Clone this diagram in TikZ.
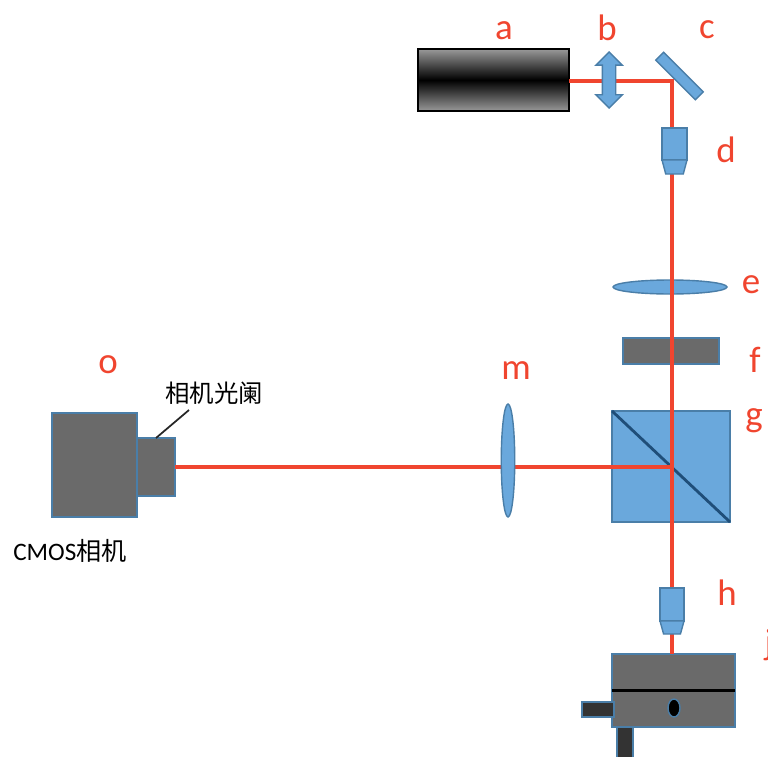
\documentclass[tikz,border=0pt]{standalone}
\usepackage{fontspec}
\usepackage{tikz}
\usetikzlibrary{positioning, shapes.geometric, shapes.arrows}
\setmainfont{Carlito}
\newfontfamily\cjk{Noto Sans CJK SC}
\definecolor{lensblue}{HTML}{6AA8DC}
\definecolor{edgeblue}{HTML}{4A7EA8}
\definecolor{darkblue}{HTML}{1F4E79}
\definecolor{bodygray}{HTML}{6A6A6A}
\definecolor{beamred}{HTML}{F0452F}
\tikzset{
	optic/.style={draw=edgeblue, fill=lensblue, line width=0.8pt, inner sep=0pt, outer sep=0pt},
	housing/.style={draw=edgeblue, fill=bodygray, line width=1.1pt, inner sep=0pt, outer sep=0pt},
	post/.style={draw=edgeblue, fill=black!80, line width=1.1pt, inner sep=0pt, outer sep=0pt},
	beam/.style={draw=beamred, line width=2pt},
	tag/.style={text=beamred, font=\fontsize{21}{24}\selectfont, inner sep=0pt},
	tip/.style={optic, trapezium, trapezium stretches=true, shape border rotate=180, inner sep=1pt,
		trapezium left angle=78, trapezium right angle=78, minimum width=5mm, minimum height=2.8mm}
}

\begin{document}
\begin{tikzpicture}[x=0.2mm, y=-0.2mm]

\useasboundingbox (0,0) rectangle (768,756);

\node [draw=black, line width=1.3pt, top color=black!40, bottom color=black!40, middle color=black, inner sep=0pt, outer sep=0pt, minimum width=30.2mm, minimum height=12.4mm] (laser) at (493.5,80) {};

\node [optic, minimum width=22.8mm, minimum height=2.8mm, ellipse] (lense) at (670,287) {};
\node [housing, minimum width=19.2mm, minimum height=5.2mm] (filter) at (671,351) {};
\node [optic, minimum width=23.6mm, minimum height=22.2mm] (cube) at (671,466.5) {};
\draw [darkblue, line width=1.6pt] (cube.north west) -- (cube.south east);

\node [housing, minimum width=17mm, minimum height=20.8mm] (camera) at (94.5,465) {};
\node [housing, minimum width=7.6mm, minimum height=11.6mm] (aperture) at (156,467) {};

\node [housing, minimum width=24.6mm, minimum height=14.6mm] (stage) at (673.5,690.5) {};
\draw [black, line width=2pt] (stage.west) -- (stage.east);
\node [draw=edgeblue, fill=black, line width=0.8pt, ellipse, inner sep=0pt, minimum width=2.4mm, minimum height=3.6mm] (hole) at (674,708) {};
\node [post, minimum width=6.4mm, minimum height=3mm] (knob) at (598,709.5) {};
\node [post, minimum width=3.2mm, minimum height=12mm] (stand) at (625,757) {};

\coordinate (turn) at (672,81);

% beam path
\path [beam] (laser.east |- turn) -- (turn) -- (turn |- stage.north);
\path [beam] (aperture.east) -- (aperture -| turn);

\node [optic, double arrow, rotate=90, minimum height=11.2mm, minimum width=5mm, double arrow head extend=1.3mm, inner sep=1.2mm] (lensb) at (609,80) {};
\node [optic, rotate=-45, minimum width=11.2mm, minimum height=2.2mm] (mirror) at (679.5,76) {};
\node [optic, ellipse, minimum width=2.7mm, minimum height=22.6mm] (lensm) at (508,460.5) {};

\node [optic, minimum width=5mm, minimum height=6.4mm] (objd) at (674.5,144) {};
\node [tip, below=0pt of objd, anchor=north] (tipd) {};
\node [optic, minimum width=4.8mm, minimum height=6.6mm] (objh) at (672,604.5) {};
\node [tip, below=0pt of objh, anchor=north, minimum width=4.8mm, minimum height=2.6mm] (tiph) {};

\node [tag] (taga) at (504,31) {a};
\node [tag] (tagb) at (607,28) {b};
\node [tag] (tagc) at (707,30) {c};
\node [tag] (tagd) at (726,150) {d};
\node [tag] (tage) at (751,285) {e};
\node [tag] (tagf) at (755,360) {f};
\node [tag] (tagg) at (754,421) {g};
\node [tag] (tagh) at (727,593) {h};
\node [tag] (tagj) at (769,645) {j};
\node [tag] (tagm) at (516,371) {m};
\node [tag] (tago) at (108,365) {o};

\node [inner sep=0pt, font=\fontsize{13.9}{16}\selectfont\cjk] (irisname) at (214,393) {相机光阑};
\node [inner sep=0pt, font=\fontsize{14.3}{16}\selectfont] (camname) at (70,551) {CMOS{\cjk 相机}};

\coordinate (leadertop) at (189,410);
\draw [black!85, line width=1pt] (aperture.north) -- (leadertop);

\end{tikzpicture}
\end{document}
